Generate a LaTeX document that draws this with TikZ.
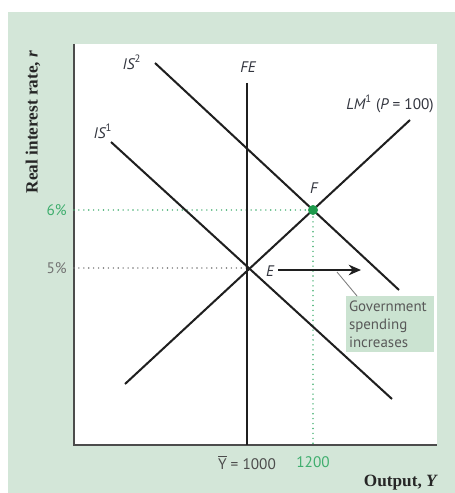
\documentclass[tikz,border=0pt]{standalone}
\usepackage{fontspec}
\setmainfont{PT Sans}
\newfontfamily\axisfont{Liberation Serif}
\usepackage{xcolor}
\usepackage{tikz}
\usetikzlibrary{positioning,calc,arrows.meta}
\definecolor{panel}{HTML}{D3E6D8}
\definecolor{calloutfill}{HTML}{CBE3D1}
\definecolor{dotgreen}{HTML}{3FAE6E}
\definecolor{ptgreen}{HTML}{1E9A4C}
\definecolor{labelgray}{HTML}{33363F}

\begin{document}
\begin{tikzpicture}[x=0.02cm,y=-0.02cm]
            \tikzset{
                curve/.style={
                    line width=1.15pt,
                    black!88
                }
            }
            \tikzset{
                axis/.style={
                    line width=1.1pt,
                    black!70
                }
            }
            \tikzset{
                guide/.style={
                    line width=0.9pt,
                    line cap=round,
                    dash pattern=on 0pt off 2.8pt
                }
            }
            \tikzset{
                curvelabel/.style={
                    font=\fontsize{8.7}{10.4}\selectfont\itshape,
                    text=labelgray,
                    inner sep=0pt
                }
            }
            \tikzset{
                ticklabel/.style={
                    font=\fontsize{8.7}{10.4}\selectfont,
                    inner sep=0pt
                }
            }
            \tikzset{
                axislabel/.style={
                    font=\fontsize{9.8}{11.8}\selectfont\axisfont\bfseries,
                    text=black!85,
                    inner sep=0pt
                }
            }
            \tikzset{
                calloutbox/.style={
                    fill=calloutfill,
                    minimum width=1.74cm,
                    minimum height=1.14cm,
                    text width=1.62cm,
                    align=left,
                    inner sep=2pt,
                    text=black!65,
                    font=\fontsize{8.5}{10.2}\selectfont
                }
            }

            \useasboundingbox (0,0) rectangle (455,493);
            \fill[panel] (8,12) rectangle (455,493);
            \fill[white] (74,44) rectangle (437,445);

            % axes
            \coordinate (top) at (74,44);
            \coordinate (O) at (74,445);
            \coordinate (right) at (437,445);
            \draw[axis] (top) -- (O) -- (right);

            % equilibrium points
            \coordinate (E) at (247,268);
            \coordinate (F) at (313,210);
            \coordinate (E0) at (O |- E);
            \coordinate (F0) at (O |- F);
            \coordinate (Fx) at (F |- O);

            \draw[guide,black!55] (E0) -- (E);
            \draw[guide,dotgreen] (F0) -- (F) -- (Fx);

            % curves
            \coordinate (FEtop) at (247,83);
            \coordinate (FEbot) at (247,445);
            \coordinate (IS1a) at (111,142);
            \coordinate (IS1b) at (392,399);
            \coordinate (IS2a) at (155,63);
            \coordinate (IS2b) at (399,290);
            \coordinate (LMa) at (125,384);
            \coordinate (LMb) at (410,120);

            \draw[curve] (FEtop) -- (FEbot);
            \draw[curve] (IS1a) -- (IS1b);
            \draw[curve] (IS2a) -- (IS2b);
            \draw[curve] (LMa) -- (LMb);

            \fill[ptgreen] (F) circle (5);

            % labels
            \node[curvelabel] (lIS2) at (132,62) {IS\textsuperscript{\upshape 2}};
            \node[curvelabel] (lIS1) at (103,131) {IS\textsuperscript{\upshape 1}};
            \node[curvelabel] (lFE) at (248,67) {FE};
            \node[curvelabel] (lLM) at (390,104) {LM\textsuperscript{\upshape 1} {\upshape(}P {\upshape= 100)}};
            \node[curvelabel] (lF) at (314,188) {F};
            \node[curvelabel] (lE) at (270,271) {E};

            \node[ticklabel,text=dotgreen,anchor=east] (r6) at (67,210) {6\%};
            \node[ticklabel,text=black!55,anchor=east] (r5) at (67,268) {5\%};
            \node[ticklabel,text=black!70] (ybar) at (247,462) {$\overline{\hbox{Y}}$ = 1000};
            \node[ticklabel,text=dotgreen] (y1200) at (313,462) {1200};

            \node[axislabel,anchor=east] (xlab) at (437,483) {Output, \itshape Y};
            \node[axislabel,rotate=90] (ylab) at (33,122) {Real interest rate, \itshape r};

            % shift of IS
            \coordinate (shiftA) at (278,270);
            \coordinate (shiftB) at (361,270);
            \draw[-{Stealth[length=7pt,width=6pt]},line width=1.3pt,black!88] (shiftA) -- (shiftB);

            \node[calloutbox] (gov) at (389.5,324) {Government\\spending\\increases};
            \coordinate (pointer) at (337,272);
            \draw[black!50,line width=0.5pt] (pointer) -- ($(gov.north west)+(12,1)$);
        \end{tikzpicture}
\end{document}
